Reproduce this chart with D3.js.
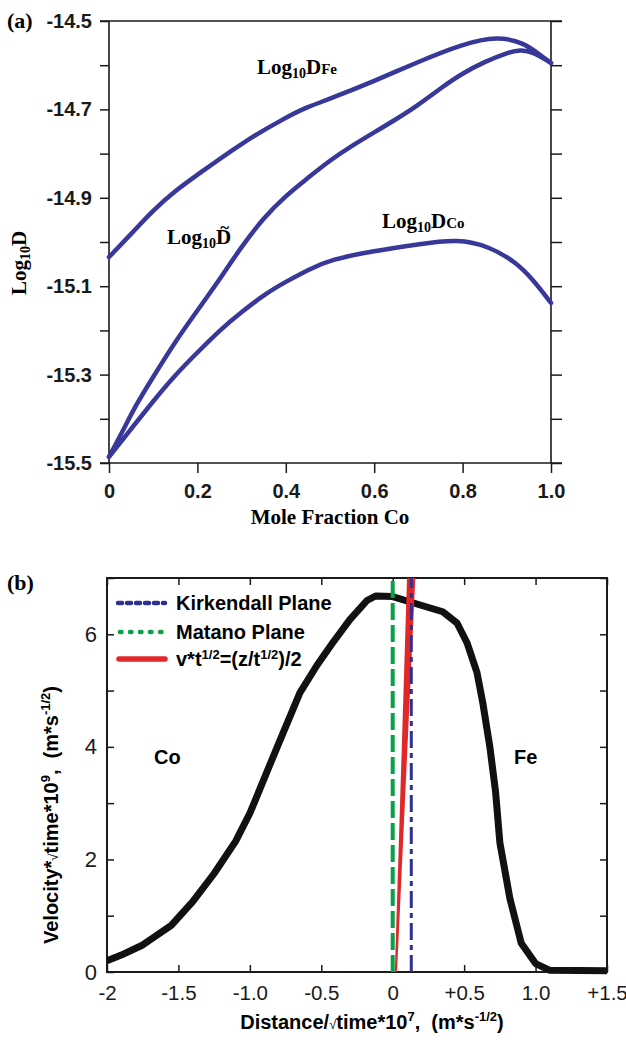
<!DOCTYPE html>
<html>
<head>
<meta charset="utf-8">
<script src="https://cdn.jsdelivr.net/npm/d3@7"></script>
<style>
  body { margin: 0; background: #fff; }
  svg { display: block; }
  text { white-space: pre; }
  .serif { font-family: "Liberation Serif", "Times New Roman", serif; font-weight: bold; }
  .sans { font-family: "Liberation Sans", Arial, Helvetica, sans-serif; }
</style>
</head>
<body>
<svg></svg>
<script>
const width = 626, height = 1040;

// ---------- panel (a) data: Log10 D vs mole fraction Co ----------
const feX  = [0, 0.05, 0.1, 0.15, 0.2, 0.3, 0.4, 0.45, 0.5, 0.6, 0.7, 0.8, 0.88, 0.94, 0.975, 1.0];
const feY  = [-15.034, -14.982, -14.928, -14.884, -14.848, -14.776, -14.718, -14.694, -14.676, -14.636, -14.592, -14.552, -14.534, -14.55, -14.577, -14.595];

const interX = [0, 0.03, 0.06, 0.1, 0.15, 0.2, 0.25, 0.3, 0.35, 0.4, 0.45, 0.5, 0.55, 0.6, 0.65, 0.7, 0.75, 0.8, 0.85, 0.9, 0.93, 0.96, 1.0];
const interY = [-15.486, -15.43, -15.37, -15.305, -15.225, -15.155, -15.085, -15.01, -14.945, -14.895, -14.855, -14.815, -14.782, -14.752, -14.722, -14.69, -14.652, -14.618, -14.592, -14.572, -14.565, -14.57, -14.595];

const coX  = [0, 0.054, 0.1, 0.15, 0.206, 0.25, 0.3, 0.357, 0.4, 0.45, 0.5, 0.6, 0.7, 0.79, 0.86, 0.92, 0.96, 1.0];
const coY  = [-15.486, -15.418, -15.36, -15.30, -15.244, -15.2, -15.158, -15.115, -15.09, -15.063, -15.04, -15.02, -15.005, -14.993, -15.01, -15.045, -15.086, -15.138];

const yTicksA = [-15.5, -15.4, -15.3, -15.2, -15.1, -15.0, -14.9, -14.8, -14.7, -14.6, -14.5];
const yTickLabelsA = ["-15.5", "", "-15.3", "", "-15.1", "", "-14.9", "", "-14.7", "", "-14.5"];
const xTicksA = [0, 0.2, 0.4, 0.6, 0.8, 1.0];
const xTickLabelsA = ["0", "0.2", "0.4", "0.6", "0.8", "1.0"];

// ---------- panel (b) data: velocity curve ----------
const distX = [-2.0, -1.9, -1.75, -1.55, -1.4, -1.25, -1.1, -1.0, -0.8, -0.65, -0.53, -0.42, -0.3, -0.18, -0.12, 0.0, 0.14, 0.35, 0.45, 0.52, 0.59, 0.63, 0.68, 0.72, 0.75, 0.82, 0.9, 1.0, 1.1, 1.5];
const velY  = [0.2, 0.3, 0.48, 0.83, 1.25, 1.75, 2.32, 2.82, 4.05, 4.96, 5.45, 5.85, 6.26, 6.6, 6.68, 6.67, 6.56, 6.4, 6.2, 5.85, 5.32, 4.79, 4.0, 3.2, 2.3, 1.31, 0.51, 0.15, 0.03, 0.02];

const matanoX = 0.0;
const kirkendallX = 0.13;
// red band (v*t^1/2 = (z/t^1/2)/2), edges at bottom and top
const redV = [0, 7];
const redLeft = [0.015, 0.1];
const redRight = [0.03, 0.158];

const xTicksB = [-2, -1.5, -1, -0.5, 0, 0.5, 1, 1.5];
const xTickLabelsB = ["-2", "-1.5", "-1.0", "-0.5", "0", "+0.5", "1.0", "+1.5"];
const yTicksB = [0, 1, 2, 3, 4, 5, 6, 7];
const yTickLabelsB = ["0", "", "2", "", "4", "", "6", ""];

const legendNames = ["Kirkendall Plane", "Matano Plane", "v*t^1/2=(z/t^1/2)/2"];

const blueCurve = "#38389a";
const blue = "#2e3192", green = "#0aa04a", red = "#e0282a", ink = "#1a1a1a";

const svg = d3.select("svg").attr("width", width).attr("height", height);

// small helper: rich text made of tspans; parts = [text, shift, size, weight]
const rich = (sel, parts) => {
  parts.forEach(([t, shift, size, weight]) => {
    const ts = sel.append("tspan").text(t);
    if (size) ts.attr("font-size", size);
    if (weight) ts.attr("font-weight", weight);
    if (shift) ts.attr("dy", shift);
  });
  return sel;
};

// ================= panel (a) =================
const xA = d3.scaleLinear().domain([0, 1]).range([109, 551]);
const yA = d3.scaleLinear().domain([-15.5, -14.5]).range([463, 21]);
const ga = svg.append("g");

const styleAxis = (sel, cls, size) => {
  sel.select(".domain").remove();
  sel.selectAll(".tick line").attr("stroke", ink).attr("stroke-width", 1.5);
  sel.selectAll("text").attr("class", cls).attr("font-size", size).attr("fill", ink);
};

ga.append("g").attr("transform", "translate(109,0)")
  .call(d3.axisLeft(yA).tickValues(yTicksA).tickSize(9).tickPadding(8)
    .tickFormat((d, i) => yTickLabelsA[i]))
  .call(s => styleAxis(s, "sans", 20))
  .selectAll("text").attr("font-weight", "bold");

ga.append("g").attr("transform", "translate(551,0)")
  .call(d3.axisRight(yA).tickValues(yTicksA).tickSize(11).tickFormat(""))
  .call(s => styleAxis(s, "sans", 20));

ga.append("g").attr("transform", "translate(0,463)")
  .call(d3.axisBottom(xA).tickValues(xTicksA).tickSize(10).tickPadding(11)
    .tickFormat((d, i) => xTickLabelsA[i]))
  .call(s => styleAxis(s, "sans", 20))
  .selectAll("text").attr("font-weight", "bold");

// frame
const frameA = [[100, 21, 562, 21], [100, 463, 562, 463], [109, 21, 109, 463], [551, 21, 551, 463]];
ga.selectAll(".frame").data(frameA).enter().append("line")
  .attr("x1", d => d[0]).attr("y1", d => d[1]).attr("x2", d => d[2]).attr("y2", d => d[3])
  .attr("stroke", ink).attr("stroke-width", 1.6);

const lineA = d3.line().x(d => xA(d[0])).y(d => yA(d[1])).curve(d3.curveBasis);
[[coX, coY], [interX, interY], [feX, feY]].forEach(([xs, ys]) => {
  ga.append("path")
    .datum(xs.map((x, i) => [x, ys[i]]))
    .attr("fill", "none").attr("stroke", blueCurve).attr("stroke-width", 4.5)
    .attr("stroke-linecap", "round").attr("stroke-linejoin", "round")
    .attr("d", lineA);
});

// curve labels
rich(ga.append("text").attr("class", "serif").attr("font-size", 21).attr("x", 257).attr("y", 74),
  [["Log"], ["10", 4, 14], ["D", -4, 21], ["Fe", 0, 15]]);
const tl = rich(ga.append("text").attr("class", "serif").attr("font-size", 21).attr("x", 167).attr("y", 244),
  [["Log"], ["10", 4, 14], ["D", -4, 21]]);
{
  const n = tl.node();
  const ext = n.getExtentOfChar("Log10".length);
  ga.append("text").attr("class", "serif").attr("font-size", 17)
    .attr("text-anchor", "middle")
    .attr("x", ext.x + ext.width / 2 + 1).attr("y", 233).text("~");
}
rich(ga.append("text").attr("class", "serif").attr("font-size", 21).attr("x", 382).attr("y", 228),
  [["Log"], ["10", 4, 14], ["D", -4, 21], ["Co", 0, 15]]);

// axis titles
ga.append("text").attr("class", "serif").attr("font-size", 21).attr("text-anchor", "middle")
  .attr("x", 330).attr("y", 524).text("Mole Fraction Co");
rich(ga.append("text").attr("class", "serif").attr("font-size", 21).attr("text-anchor", "middle")
  .attr("transform", "translate(26,263) rotate(-90)"),
  [["Log"], ["10", 4, 14], ["D", -4, 21]]);
ga.append("text").attr("class", "serif").attr("font-size", 22).attr("x", 7).attr("y", 28).text("(a)");

// ================= panel (b) =================
const xB = d3.scaleLinear().domain([-2, 1.5]).range([107, 607]);
const yB = d3.scaleLinear().domain([0, 7]).range([972, 578]);
const gb = svg.append("g");

gb.append("g").attr("transform", "translate(107,0)")
  .call(d3.axisLeft(yB).tickValues(yTicksB).tickSize(-7).tickPadding(10)
    .tickFormat((d, i) => yTickLabelsB[i]))
  .call(s => styleAxis(s, "sans", 22));
gb.append("g").attr("transform", "translate(607,0)")
  .call(d3.axisRight(yB).tickValues(yTicksB).tickSize(-7).tickFormat(""))
  .call(s => styleAxis(s, "sans", 22));
gb.append("g").attr("transform", "translate(0,972)")
  .call(d3.axisBottom(xB).tickValues(xTicksB).tickSize(-7).tickPadding(13)
    .tickFormat((d, i) => xTickLabelsB[i]))
  .call(s => styleAxis(s, "sans", 20.5));
gb.append("g").attr("transform", "translate(0,578)")
  .call(d3.axisTop(xB).tickValues(xTicksB).tickSize(-7).tickFormat(""))
  .call(s => styleAxis(s, "sans", 20));

gb.append("rect").attr("x", 107).attr("y", 578).attr("width", 500).attr("height", 394)
  .attr("fill", "none").attr("stroke", ink).attr("stroke-width", 2);

const lineB = d3.line().x(d => xB(d[0])).y(d => yB(d[1]));
gb.append("path")
  .datum(distX.map((x, i) => [x, velY[i]]))
  .attr("fill", "none").attr("stroke", "#111").attr("stroke-width", 7)
  .attr("stroke-linejoin", "round")
  .attr("d", lineB);

const redBand = redV.map((v, i) => ({ v, x0: redLeft[i], x1: redRight[i] }));
gb.append("path").datum(redBand)
  .attr("fill", red)
  .attr("d", d3.area().y(d => yB(d.v)).x0(d => xB(d.x0)).x1(d => xB(d.x1)));

gb.append("line").attr("x1", xB(matanoX)).attr("x2", xB(matanoX)).attr("y1", yB(0)).attr("y2", yB(7))
  .attr("stroke", green).attr("stroke-width", 4).attr("stroke-dasharray", "17,5");
gb.append("line").attr("x1", xB(kirkendallX)).attr("x2", xB(kirkendallX)).attr("y1", yB(0)).attr("y2", yB(7))
  .attr("stroke", blue).attr("stroke-width", 3).attr("stroke-dasharray", "17,5,5,5");

// legend
const legY = [603, 632, 659];
gb.append("line").attr("x1", 118).attr("x2", 165).attr("y1", legY[0]).attr("y2", legY[0])
  .attr("stroke", blue).attr("stroke-width", 4.5).attr("stroke-linecap", "round").attr("stroke-dasharray", "4,5");
gb.append("line").attr("x1", 120).attr("x2", 164).attr("y1", legY[1]).attr("y2", legY[1])
  .attr("stroke", green).attr("stroke-width", 4.5).attr("stroke-linecap", "round").attr("stroke-dasharray", "1.5,8.5");
gb.append("line").attr("x1", 119).attr("x2", 165).attr("y1", legY[2]).attr("y2", legY[2])
  .attr("stroke", red).attr("stroke-width", 5.5).attr("stroke-linecap", "round");

gb.append("text").attr("class", "sans").attr("font-weight", "bold").attr("font-size", 20)
  .attr("x", 176).attr("y", legY[0] + 7).text(legendNames[0]);
gb.append("text").attr("class", "sans").attr("font-weight", "bold").attr("font-size", 20)
  .attr("x", 176).attr("y", legY[1] + 7).text(legendNames[1]);
rich(gb.append("text").attr("class", "sans").attr("font-weight", "bold").attr("font-size", 20)
  .attr("x", 176).attr("y", legY[2] + 7),
  [["v*t"], ["1/2", -7, 13], ["=(z/t", 7, 20], ["1/2", -7, 13], [")/2", 7, 20]]);

// region labels
gb.append("text").attr("class", "sans").attr("font-weight", "bold").attr("font-size", 20)
  .attr("x", 154).attr("y", 764).text("Co");
gb.append("text").attr("class", "sans").attr("font-weight", "bold").attr("font-size", 20)
  .attr("x", 514).attr("y", 764).text("Fe");

// axis titles
rich(gb.append("text").attr("class", "sans").attr("font-weight", "bold").attr("font-size", 20)
  .attr("text-anchor", "middle").attr("x", 372).attr("y", 1029),
  [["Distance/"], ["\u221a", 0, 13, "normal"], ["time*10", 0, 20], ["7", -8, 13], [",  (m*s", 8, 20], ["-1/2", -8, 13], [")", 8, 20]]);
rich(gb.append("text").attr("class", "sans").attr("font-weight", "bold").attr("font-size", 20)
  .attr("text-anchor", "middle").attr("transform", "translate(58,815) rotate(-90)"),
  [["Velocity*"], ["\u221a", 0, 13, "normal"], ["time*10", 0, 20], ["9", -8, 13], [",  (m*s", 8, 20], ["-1/2", -8, 13], [")", 8, 20]]);

svg.append("text").attr("class", "serif").attr("font-size", 22).attr("x", 7).attr("y", 590).text("(b)");
</script>
</body>
</html>
